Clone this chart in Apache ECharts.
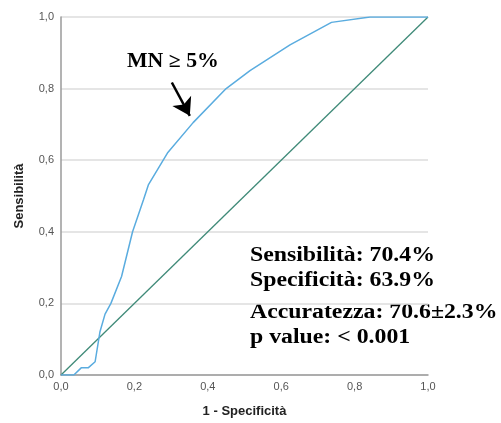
<!DOCTYPE html>
<html><head><meta charset="utf-8">
<script src="https://cdn.jsdelivr.net/npm/echarts@6/dist/echarts.min.js"></script>
<style>html,body{margin:0;padding:0;background:#fff}#c{width:501px;height:423px}</style>
</head><body><div id="c"></div>
<script>
var rocX = [0, 0.035, 0.055, 0.074, 0.093, 0.106, 0.12, 0.136, 0.165, 0.195, 0.225, 0.238, 0.29, 0.36, 0.45, 0.515, 0.624, 0.737, 0.842, 1];
var rocY = [0, 0, 0.02, 0.02, 0.037, 0.12, 0.17, 0.2, 0.275, 0.40, 0.49, 0.531, 0.62, 0.705, 0.80, 0.85, 0.922, 0.985, 1, 1];
var refX = [0, 1];
var refY = [0, 1];
var tickVals = [0, 0.2, 0.4, 0.6, 0.8, 1.0];
var statsText = ['Sensibilità: 70.4%', 'Specificità: 63.9%', 'Accuratezza: 70.6±2.3%', 'p value: < 0.001'];
var statsRowY = [256, 281, 313, 338];
var arrowFrom = [0.302, 0.817];
var arrowTo = [0.351, 0.724];
var annoText = 'MN ≥ 5%';

var rocData = rocX.map(function(x, i){ return [x, rocY[i]]; });
var refData = refX.map(function(x, i){ return [x, refY[i]]; });
function fmt(v){ return v.toFixed(1).replace('.', ','); }

var serifFont = 'bold 20.5px "Liberation Serif", "Times New Roman", serif';
var graphics = [
  {type:'text', x:127, y:62, scaleX:1.09, style:{text:annoText, fill:'#000', font:'bold 20px "Liberation Serif", "Times New Roman", serif', verticalAlign:'middle', align:'left'}}
];
statsText.forEach(function(t, i){
  graphics.push({type:'text', x:250, y:statsRowY[i], scaleX:1.16,
    style:{text:t, fill:'#000', font:serifFont, verticalAlign:'middle', align:'left'}});
});

var chart = echarts.init(document.getElementById('c'), null, {renderer:'canvas'});
var axisLabel = {color:'#555', fontSize:11, fontFamily:'Liberation Sans, Arial, sans-serif', formatter: fmt};
chart.setOption({
  animation:false,
  backgroundColor:'#fff',
  grid:{left:61, right:73, top:17, bottom:48},
  xAxis:{type:'value', min:0, max:1, interval:0.2,
    name:'1 - Specificità', nameLocation:'middle', nameGap:30,
    nameTextStyle:{color:'#222', fontSize:13, fontWeight:'bold', fontFamily:'Liberation Sans, Arial, sans-serif'},
    axisLine:{show:true, lineStyle:{color:'#9a9a9a', width:1.5}},
    axisTick:{show:false}, splitLine:{show:false},
    axisLabel: Object.assign({margin:6}, axisLabel)},
  yAxis:{type:'value', min:0, max:1, interval:0.2,
    name:'Sensibilità', nameLocation:'middle', nameGap:35,
    nameTextStyle:{color:'#222', fontSize:13, fontWeight:'bold', fontFamily:'Liberation Sans, Arial, sans-serif'},
    axisLine:{show:true, lineStyle:{color:'#9a9a9a', width:1.5}},
    axisTick:{show:false},
    splitLine:{show:true, lineStyle:{color:'#dcdcdc', width:1.5}},
    axisLabel: Object.assign({margin:7}, axisLabel)},
  series:[
    {type:'line', data:refData, showSymbol:false, lineStyle:{color:'#3f8a78', width:1.3}, z:3},
    {type:'line', data:rocData, showSymbol:false, lineStyle:{color:'#5aacdf', width:1.5}, z:4,
     markLine:{silent:true, symbol:['none','arrow'], symbolSize:[16,17],
       lineStyle:{color:'#000', width:2.5, type:'solid'}, label:{show:false},
       data:[[{coord:arrowFrom},{coord:arrowTo}]]}}
  ],
  graphic: graphics
});
</script></body></html>
